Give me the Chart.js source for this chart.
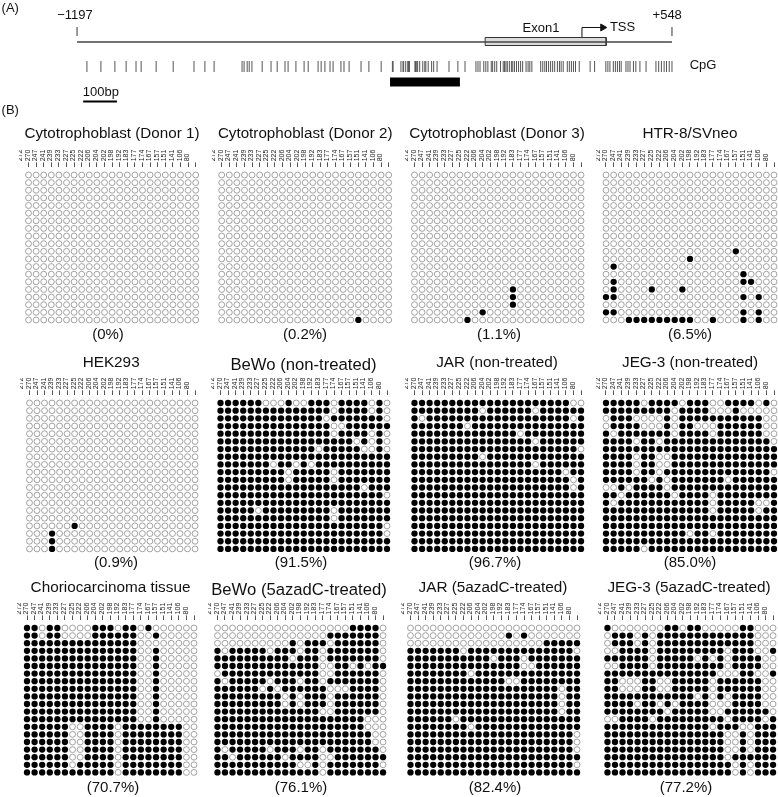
<!DOCTYPE html>
<html>
<head>
<meta charset="utf-8">
<title>Methylation panels</title>
<script src="https://cdn.jsdelivr.net/npm/chart.js@4"></script>
<style>
  html, body { margin: 0; padding: 0; background: #fff; overflow: hidden; }
  body { width: 778px; height: 797px; position: relative; }
  canvas { position: absolute; }
</style>
</head>
<body>
<canvas id="gene" width="778" height="125" style="left:0;top:0"></canvas>
<script>
// CpG sites named above each panel (bp upstream of the TSS)
const sites = ["272","270","247","241","239","233","227","225","222","206","204","202","198","192","183","177","174","167","157","151","141","106","80"]

// Every CpG along the promoter, in bp
const cpgPositions = [-1168,-1127,-1086,-1053,-1024,-1009,-965,-915,-854,-822,-795,-713,-707,-698,-692,-684,-654,-628,-610,-587,-578,-555,-531,-519,-490,-481,-470,-455,-446,-423,-414,-399,-364,-341,-305,
  -272,-270,-247,-241,-239,-233,-227,-225,-222,-206,-204,-202,-198,-192,-183,-177,-174,-167,-157,-151,-141,-106,-80,-59,-27,
  -21,-15,-4,2,8,18,22,28,34,45,53,57,61,65,71,77,81,86,92,98,104,110,120,126,131,137,163,169,175,180,186,192,198,204,212,218,223,229,241,247,253,259,265,276,308,321,354,360,366,376,382,388,394,399,413,419,425,435,442,454,472,501,509,517,525,532,540,548]

// Methylated columns per clone, mostly empty panels
const donor1Filled = [[],[],[],[],[],[],[],[],[],[],[],[],[],[],[],[],[],[],[],[]]
const donor2Filled = [[],[],[],[],[],[],[],[],[],[],[],[],[],[],[],[],[],[],[],[18]]
const donor3Filled = [[],[],[],[],[],[],[],[],[],[],[],[],[],[],[],[13],[13],[13],[9],[7]]
const htrFilled = [[],[],[],[],[],[],[],[],[],[],[17],[11],[1],[18],[1,18,19],[1,6,10],[0,1,18,20],[],[0,1,18,20],[3,4,5,6,7,8,9,10,11,14,18,20]]
const hekFilled = [[],[],[],[],[],[],[],[],[],[],[],[],[],[],[],[],[6],[3],[3],[3]]

// Unmethylated columns per clone, mostly full panels
const bewoOpen = [[6,7,8,10,11,15,20,22],[15,20,22],[14,22],[15,16],[15,20,22],[18,20,22],[13,19,20,22],[],[7,10,12],[9,15],[9,15],[19],[22],[],[5,15],[15],[22],[22],[],[]]
const jarOpen = [[21,22],[9,16],[1,21],[7],[14],[16],[22],[9],[16],[20],[21],[21],[],[],[],[],[],[],[],[]]
const jegOpen = [[5,10,14,15,20,22],[9,14,15,16,18,19,20,21,22],[0,4,5,6,7,9,21,22],[0,5,6,7,9,12,13,14,21,22],[1,9,14,21,22],[4,7,22],[],[4,7,8],[4,7,8],[4,7,22],[6,8,16],[0,1,3,8],[2,9,14],[1,14,20,21],[14,20],[],[],[11,14],[],[5]]
const tissueOpen = [[2,5,6,7,8,12,15,17,18,19,20,21,22],[2,5,6,7,8,15,16,18,19,20,21,22],[15,16,17,18,19,20,21,22],[15,16,18,19,20,21,22],[15,16,18,19,20,21,22],[15,16,18,19,20,21,22],[15,16,18,19,20,21,22],[15,16,18,19,20,21,22],[15,16,18,19,20,21,22],[15,16,18,19,20,21,22],[15,16,18,19,20,21,22],[15,16,18,19,20,21,22],[15,16,18,19,20,21,22],[6,7,12,21,22],[6,7,12,21,22],[6,7,12,21,22],[6,7,12,21,22],[6,7,12,21,22],[6,12,21,22],[12,21,22]]
const bewoAzaOpen = [[0,1,2,3,4,5,6,7,8,9,10,11,12,13,14,15,16,17,22],[0,1,2,3,4,5,6,7,8,9,10,11,12,13,14,22],[0,1,2,3,4,5,6,7,8,9,11,15,22],[1,7,11,14,22],[10,14,22],[14,15,18,20],[0,14,15,22],[1,7,11,14,22],[6,8,15,16,17,22],[9,11,15,22],[9,11,15,22],[14,15,22],[20,21,22],[20,21,22],[21,22],[21,22],[1,7,11,14,22],[2,9,14,15],[11,12,14,22],[14]]
const jarAzaOpen = [[0,1,2,3,4,5,6,7,8,9,10,11,12,13,14,15,16,17,18,19,20,21,22],[0,1,2,3,4,5,6,7,8,9,10,11,12,14,16,17,18,19,20,21,22],[0,1,2,3,4,5,6,7,8,9,10,11,12,13,14,15,16,17],[7,22],[11,15],[15,16],[8],[13,14],[20],[20],[20],[20],[6],[8],[22],[22],[22],[],[22],[]]
const jegAzaOpen = [[1,2,3,4,5,6,7,10,13,14,15,16,17,20,21,22],[0,4,6,20,21,22],[0,4,6,20,21,22],[0,1,6,16,20,21],[6,12,14,16,21,22],[0,1,6,16,21,22],[15,16,17,20,21],[2,3,4,7,8,14,21,22],[2,3,4,7,8,14,21,22],[12,14,16,21,22],[4,7,9,14,15,16,21,22],[8,14,15,22],[0,1,6,16,21],[14,18,19],[16,17,19],[16,17,19],[16,17,19],[16],[17,19],[17,19]]

const panels = [
  { title: "Cytotrophoblast (Donor 1)", pct: "(0%)", filled: donor1Filled },
  { title: "Cytotrophoblast (Donor 2)", pct: "(0.2%)", filled: donor2Filled },
  { title: "Cytotrophoblast (Donor 3)", pct: "(1.1%)", filled: donor3Filled },
  { title: "HTR-8/SVneo", pct: "(6.5%)", filled: htrFilled },
  { title: "HEK293", pct: "(0.9%)", filled: hekFilled },
  { title: "BeWo (non-treated)", pct: "(91.5%)", open: bewoOpen },
  { title: "JAR (non-treated)", pct: "(96.7%)", open: jarOpen },
  { title: "JEG-3 (non-treated)", pct: "(85.0%)", open: jegOpen },
  { title: "Choriocarcinoma tissue", pct: "(70.7%)", open: tissueOpen },
  { title: "BeWo (5azadC-treated)", pct: "(76.1%)", open: bewoAzaOpen },
  { title: "JAR (5azadC-treated)", pct: "(82.4%)", open: jarAzaOpen },
  { title: "JEG-3 (5azadC-treated)", pct: "(77.2%)", open: jegAzaOpen },
]

// Page placement of each panel: first/last column, title and percent centres
const firstCol = [28.3, 221.7, 413, 606, 27.3, 220, 413, 606, 27, 215, 409, 605]
const lastCol = [195.7, 388.7, 581, 774, 195, 387, 581, 774, 194, 383, 577, 773]
const titleX = [111, 304, 497, 688, 112, 303, 497, 688, 109, 300, 493, 690]
const pctX = [108, 305, 499, 690, 116, 301, 495, 690, 113, 301, 495, 686]
const firstRow = [175, 403, 628]
const rowStep = [7.63, 7.68, 7.6]
const titleY = [134, 363, 588]
const pctY = [335, 563, 788]

const FONT = '"Liberation Sans", Arial, sans-serif'
Chart.defaults.font.family = FONT
Chart.defaults.animation = false

// Text the library has no option for; items resolve their spot per chart
const textPlugin = (getItems) => ({
  id: "textLabels",
  afterDraw(chart) {
    const { ctx } = chart
    ctx.save()
    ctx.fillStyle = "#111"
    ctx.textAlign = "center"
    ctx.textBaseline = "middle"
    getItems(chart).forEach((it) => {
      ctx.font = `${it.size}px ${FONT}`
      ctx.fillText(it.text, it.x, it.y)
    })
    ctx.restore()
  },
})

// Gene diagram
const lineDs = (points, color, width) => ({
  data: points,
  showLine: true,
  borderColor: color,
  borderWidth: width,
  pointRadius: 0,
})
const tickDs = (xs, y, len, color) => ({
  data: xs.map((x) => ({ x, y })),
  pointStyle: "line",
  rotation: 90,
  pointRadius: len / 2,
  pointBorderWidth: 1,
  pointBorderColor: color,
})
const geneLabels = [
  ["(A)", -1393, 8],
  ["(B)", -1393, 110],
  ["−1197", -1203, 15],
  ["+548", 534, 15],
  ["Exon1", 164, 28],
  ["TSS", 403, 27],
  ["CpG", 639, 65],
  ["100bp", -1127, 92],
]

new Chart(document.getElementById("gene"), {
  type: "scatter",
  data: {
    datasets: [
      lineDs([{ x: -1197, y: 42 }, { x: 548, y: 42 }], "#444", 1.3),
      tickDs([-1197, 548], 31.5, 9, "#333"),
      {
        ...lineDs([{ x: 0, y: 37.5 }, { x: 355, y: 37.5 }, { x: 355, y: 45.5 }, { x: 0, y: 45.5 }, { x: 0, y: 37.5 }], "#333", 1),
        fill: "shape",
        backgroundColor: "#dcdcdc",
      },
      lineDs([{ x: 284, y: 37 }, { x: 284, y: 27.5 }, { x: 340, y: 27.5 }], "#111", 1),
      {
        data: [{ x: 345, y: 27.5 }],
        pointStyle: "triangle",
        rotation: 90,
        pointRadius: 4,
        pointBackgroundColor: "#111",
        pointBorderColor: "#111",
      },
      tickDs(cpgPositions, 66.5, 11, "#555"),
      lineDs([{ x: -279, y: 82 }, { x: -74, y: 82 }], "#000", 9),
      lineDs([{ x: -1179, y: 101.5 }, { x: -1080, y: 101.5 }], "#000", 2),
    ],
  },
  options: {
    responsive: false,
    layout: { padding: 0, autoPadding: false },
    scales: {
      x: { type: "linear", display: false, min: -1423, max: 859 },
      y: { type: "linear", display: false, min: 0, max: 125, reverse: true },
    },
    plugins: {
      legend: { display: false },
      tooltip: { enabled: false },
    },
  },
  plugins: [textPlugin((chart) => geneLabels.map(([text, bp, y]) => ({
    text,
    size: 13,
    x: chart.scales.x.getPixelForValue(bp),
    y: chart.scales.y.getPixelForValue(y),
  })))],
})

// Methylation panels
const CANVAS_W = 184
const AXIS_H = 18

panels.forEach((panel, i) => {
  const row = Math.floor(i / 4)
  const step = rowStep[row]
  const colStep = (lastCol[i] - firstCol[i]) / 22
  const big = panel.title.startsWith("BeWo")
  const size = big ? 16.7 : 15.3
  const lineH = size * 1.2
  const tY = titleY[row] + (big ? 2.5 : 0)

  const top = firstRow[row] - 55
  const left = titleX[i] - CANVAS_W / 2
  const height = pctY[row] + 10 - top
  const areaTop = firstRow[row] - step
  const areaBottom = firstRow[row] + 19.5 * step

  const filled = []
  const open = []
  for (let r = 0; r < 20; r++) {
    sites.forEach((site, c) => {
      const isFilled = panel.filled ? panel.filled[r].includes(c) : !panel.open[r].includes(c)
      ;(isFilled ? filled : open).push({ x: site, y: r })
    })
  }

  const canvas = document.createElement("canvas")
  canvas.width = CANVAS_W
  canvas.height = height
  canvas.style.left = left + "px"
  canvas.style.top = top + "px"
  document.body.appendChild(canvas)

  new Chart(canvas, {
    type: "scatter",
    data: {
      labels: sites,
      datasets: [
        {
          label: "Unmethylated",
          data: open,
          pointRadius: 2.95,
          pointBackgroundColor: "#fff",
          pointBorderColor: "#8c8c8c",
          pointBorderWidth: 0.8,
        },
        {
          label: "Methylated",
          data: filled,
          pointRadius: 3.15,
          pointBackgroundColor: "#000",
          pointBorderWidth: 0,
        },
      ],
    },
    options: {
      responsive: false,
      layout: {
        autoPadding: false,
        padding: {
          left: firstCol[i] - colStep / 2 - left,
          right: left + CANVAS_W - lastCol[i] - colStep / 2,
          top: 0,
          bottom: top + height - areaBottom,
        },
      },
      scales: {
        x: {
          type: "category",
          position: "top",
          labels: sites,
          offset: true,
          afterFit: (s) => { s.height = AXIS_H },
          border: { display: false },
          grid: { drawOnChartArea: false, drawTicks: true, tickLength: 5, tickColor: "#555", tickWidth: 1 },
          ticks: { autoSkip: false, minRotation: 90, maxRotation: 90, padding: 1, color: "#222", font: { size: 7 } },
        },
        y: { type: "linear", display: false, reverse: true, min: -1, max: 19.5 },
      },
      plugins: {
        legend: { display: false },
        tooltip: { enabled: false },
        title: {
          display: true,
          text: panel.title,
          color: "#111",
          font: { size, weight: "normal", lineHeight: 1.2 },
          padding: {
            top: tY - lineH / 2 - top,
            bottom: areaTop - AXIS_H - (tY + lineH / 2),
          },
        },
      },
    },
    plugins: [textPlugin(() => [{
      text: panel.pct,
      size: 15,
      x: pctX[i] - left,
      y: pctY[row] - top,
    }])],
  })
})
</script>
</body>
</html>
